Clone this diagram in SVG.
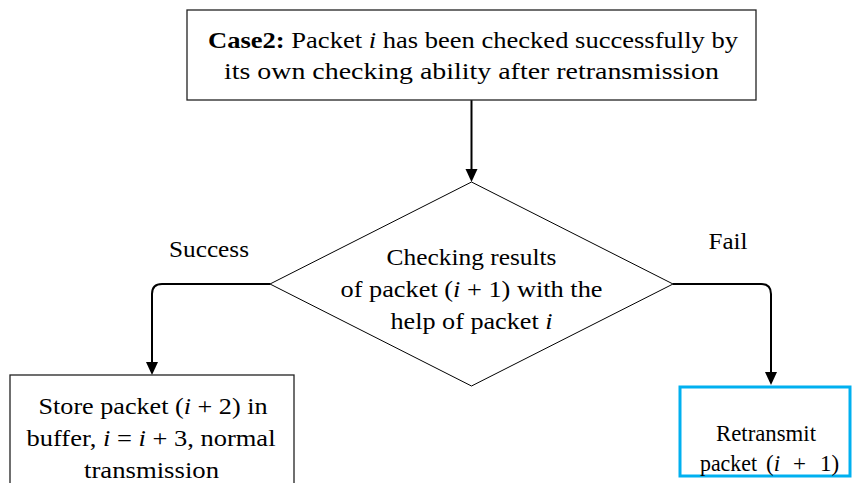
<svg xmlns="http://www.w3.org/2000/svg" width="852" height="483" viewBox="0 0 852 483">
<style>
text{font-family:"Liberation Serif","Times New Roman",serif;font-size:23px;fill:#000;text-anchor:middle}
.it{font-style:italic}
.b{font-weight:bold}
.box{fill:#fff;stroke:#222;stroke-width:1.3}
.dia{fill:#fff;stroke:#000;stroke-width:1}
.con{fill:none;stroke:#000;stroke-width:2}
.head{fill:#000}
</style>
<rect width="852" height="483" fill="#fff"/>
<g id="connectors">
<path class="con" d="M471.5,100 V169"/>
<path class="head" d="M465.5,169 L477.5,169 L471.5,182 Z"/>
<path class="con" d="M270,284 H162 Q152,284 152,294 V362"/>
<path class="head" d="M146,362 L158,362 L152,375 Z"/>
<path class="con" d="M673,284 H761 Q771,284 771,294 V372"/>
<path class="head" d="M765,372 L777,372 L771,385 Z"/>
</g>
<g id="start">
<rect class="box" x="187" y="10" width="569" height="90"/>
<text x="473" y="47.5" textLength="530" lengthAdjust="spacingAndGlyphs"><tspan class="b">Case2:</tspan> Packet <tspan class="it">i</tspan> has been checked successfully by</text>
<text x="471.5" y="79" textLength="495" lengthAdjust="spacingAndGlyphs">its own checking ability after retransmission</text>
</g>
<g id="decision">
<polygon class="dia" points="471.5,182 673,284 471.5,386 270,284"/>
<text x="471.5" y="265" textLength="170" lengthAdjust="spacingAndGlyphs">Checking results</text>
<text x="471.5" y="297" textLength="262" lengthAdjust="spacingAndGlyphs">of packet (<tspan class="it">i</tspan> + 1) with the</text>
<text x="471.5" y="329" textLength="162" lengthAdjust="spacingAndGlyphs">help of packet <tspan class="it">i</tspan></text>
</g>
<g id="label-success">
<text x="209" y="257" textLength="80" lengthAdjust="spacingAndGlyphs">Success</text>
</g>
<g id="label-fail">
<text x="728" y="249" textLength="39" lengthAdjust="spacingAndGlyphs">Fail</text>
</g>
<g id="store">
<rect class="box" x="10" y="375" width="284" height="120"/>
<text x="153" y="414" textLength="229" lengthAdjust="spacingAndGlyphs">Store packet (<tspan class="it">i</tspan> + 2) in</text>
<text x="151" y="446" textLength="249" lengthAdjust="spacingAndGlyphs">buffer, <tspan class="it">i</tspan> = <tspan class="it">i</tspan> + 3, normal</text>
<text x="151.5" y="478" textLength="135" lengthAdjust="spacingAndGlyphs">transmission</text>
</g>
<g id="retransmit">
<rect x="680" y="387" width="170" height="89" fill="#fff" stroke="#00B0F0" stroke-width="3"/>
<text x="766" y="441" textLength="100" lengthAdjust="spacingAndGlyphs">Retransmit</text>
<text x="700" y="471" style="text-anchor:start"><tspan textLength="57" lengthAdjust="spacingAndGlyphs">packet</tspan><tspan x="766">(</tspan><tspan class="it">i</tspan><tspan x="793">+</tspan><tspan x="820">1)</tspan></text>
</g>
</svg>
